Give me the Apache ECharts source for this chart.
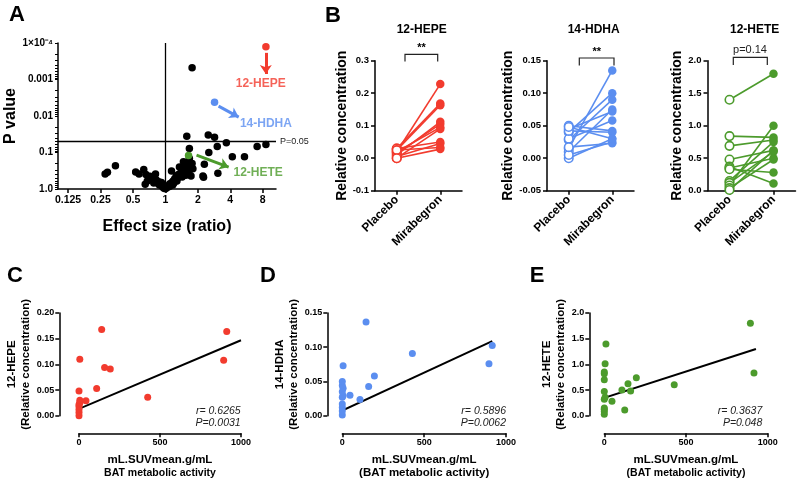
<!DOCTYPE html>
<html>
<head>
<meta charset="utf-8">
<script src="https://cdn.jsdelivr.net/npm/echarts@6/dist/echarts.min.js"></script>
<style>
  html, body { margin: 0; padding: 0; background: #fff; }
  #chart { width: 800px; height: 483px; }
</style>
</head>
<body>
<div id="chart"></div>
<script>
// ---------- panel A: volcano plot, [effect size (ratio), P value]
const volcanoPoints = [
  [0.276, 0.39], [0.29, 0.35], [0.344, 0.23],
  [0.53, 0.34], [0.57, 0.39], [0.63, 0.29], [0.66, 0.40], [0.65, 0.74], [0.70, 0.56],
  [0.72, 0.45], [0.76, 0.50], [0.81, 0.39], [0.82, 0.56], [0.87, 0.63], [0.90, 0.74],
  [0.93, 0.82], [0.95, 0.89], [0.97, 0.95], [1.0, 0.98], [0.85, 0.70], [0.78, 0.68],
  [0.68, 0.60], [0.92, 0.66], [0.88, 0.78], [0.98, 0.86],
  [1.03, 0.93], [1.05, 0.87], [1.07, 0.80], [1.09, 0.85], [1.10, 0.72], [1.12, 0.76],
  [1.14, 0.32], [1.15, 0.66], [1.18, 0.60], [1.20, 0.68], [1.22, 0.52], [1.25, 0.56],
  [1.26, 0.44], [1.30, 0.50], [1.32, 0.40], [1.35, 0.25], [1.37, 0.45], [1.40, 0.35],
  [1.42, 0.30], [1.45, 0.38], [1.47, 0.18], [1.50, 0.27], [1.52, 0.33], [1.56, 0.23],
  [1.58, 0.20], [1.60, 0.28], [1.62, 0.22], [1.67, 0.145], [1.70, 0.25], [1.73, 0.44],
  [1.77, 0.20], [1.80, 0.28], [1.65, 0.35], [1.55, 0.42], [1.43, 0.47], [1.28, 0.60],
  [1.17, 0.78],
  [2.26, 0.48], [2.30, 0.21], [2.53, 0.10], [3.07, 0.37], [2.23, 0.44],
  [4.18, 0.13], [5.42, 0.13], [1.67, 0.078], [3.03, 0.069],
  [1.58, 0.036], [2.50, 0.033], [2.86, 0.038], [3.68, 0.054], [7.1, 0.069], [8.57, 0.060],
  [1.77, 0.00048]
];
const hepeHit = [8.57, 0.000126];
const hdhaHit = [2.86, 0.0042];
const heteHit = [1.64, 0.12];
const ratioTicks = [0.125, 0.25, 0.5, 1, 2, 4, 8];
const pTicks = [1, 0.1, 0.01, 0.001, 0.0001];
const pTickLabels = ['1.0', '0.1', '0.01', '0.001', '1×10⁻⁴'];
const pCutoff = 0.05;

// ---------- panel B: paired values, same index = same subject
const groups = ['Placebo', 'Mirabegron'];
const hepePlacebo = [0.020, 0.030, 0.025, 0.010, 0.015, 0.020, 0.000, 0.030, 0.005, 0.025, 0.000];
const hepeMira    = [0.228, 0.168, 0.163, 0.112, 0.105, 0.095, 0.090, 0.050, 0.045, 0.033, 0.028];
const hdhaPlacebo = [0.015, 0.040, 0.028, 0.010, 0.045, 0.030, 0.050, 0.042, 0.000, 0.005, 0.017, 0.048];
const hdhaMira    = [0.135, 0.100, 0.090, 0.075, 0.072, 0.058, 0.042, 0.040, 0.030, 0.025, 0.023, 0.030];
const hetePlacebo = [1.40, 0.84, 0.69, 0.48, 0.37, 0.35, 0.33, 0.15, 0.12, 0.08, 0.04, 0.01];
const heteMira    = [1.80, 0.82, 0.78, 0.62, 0.11, 0.50, 0.28, 0.75, 0.60, 1.00, 0.48, 0.62];

// ---------- panels C-E: [BAT metabolic activity, relative concentration]
const hepeBat = [
  [0, 0.000], [0, 0.006], [0, 0.012], [0, 0.018], [0, 0.022], [5, 0.025], [5, 0.030],
  [0, 0.048], [5, 0.110], [43, 0.029], [109, 0.053], [140, 0.168], [158, 0.094],
  [193, 0.091], [424, 0.036], [893, 0.108], [912, 0.164]
];
const hdhaBat = [
  [0, 0.001], [0, 0.007], [0, 0.012], [0, 0.017], [0, 0.027], [5, 0.029], [0, 0.035],
  [5, 0.040], [0, 0.044], [0, 0.050], [5, 0.073], [47, 0.030], [108, 0.0235],
  [161, 0.0427], [196, 0.058], [145, 0.137], [428, 0.0907], [896, 0.076], [916, 0.1025]
];
const heteBat = [
  [0, 0.03], [0, 0.08], [0, 0.125], [0, 0.15], [0, 0.32], [5, 0.36], [0, 0.47],
  [0, 0.70], [0, 0.815], [0, 0.85], [5, 1.01], [10, 1.395], [47, 0.28], [108, 0.50],
  [125, 0.11], [145, 0.62], [161, 0.48], [196, 0.74], [428, 0.605], [894, 1.80], [916, 0.83]
];
const hepeFit = [[-78, 0.003], [1000, 0.147]];
const hdhaFit = [[-81, -0.0015], [916, 0.109]];
const heteFit = [[-87, 0.26], [928, 1.30]];
const hepeStats = ['r= 0.6265', 'P=0.0031'];
const hdhaStats = ['r= 0.5896', 'P=0.0062'];
const heteStats = ['r= 0.3637', 'P=0.048'];

const FONT = '"Liberation Sans", Arial, Helvetica, sans-serif';
const RED = '#f23b2e', BLUE = '#5b8ef0', GREEN = '#4c9b2c';
const lx = r => Math.log2(r);
const ly = p => -Math.log10(p);

const chart = echarts.init(document.getElementById('chart'), null, { renderer: 'canvas' });

const line = { color: '#000', width: 1.5 };
const tickText = size => ({ color: '#000', fontFamily: FONT, fontWeight: 'bold', fontSize: size });

function valueAxis(extra) {
  return Object.assign({
    type: 'value',
    axisLine: { show: true, onZero: false, lineStyle: line },
    axisTick: { show: true, length: 4, lineStyle: line },
    splitLine: { show: false },
    nameLocation: 'middle',
    nameTextStyle: { color: '#000', fontFamily: FONT, fontWeight: 'bold', fontSize: 12 }
  }, extra);
}

const grids = [
  { left: 58, top: 43, width: 218, height: 146 },        // A
  { left: 375, top: 60.7, width: 87, height: 130 },      // B 12-HEPE
  { left: 547, top: 60.7, width: 87, height: 130 },      // B 14-HDHA
  { left: 707.5, top: 60.7, width: 88, height: 130 },    // B 12-HETE
  { left: 79, top: 313, width: 162, height: 102.7 },     // C
  { left: 342.3, top: 313, width: 163.7, height: 102.7 },// D
  { left: 604.3, top: 313, width: 163.4, height: 102.7 } // E
].map(g => Object.assign({ outerBoundsMode: 'none', containLabel: false }, g));

const xAxes = [], yAxes = [], series = [];

// ---------- A
// log-style ticks: decades plus 2..9 within each decade
const pTickVals = pTicks.map(ly);
for (let n = 0; n < 4; n++) for (let k = 2; k <= 9; k++) pTickVals.push(n + 1 - Math.log10(k));

xAxes.push(valueAxis({
  gridIndex: 0, min: -3.31, max: 3.41,
  axisTick: { show: true, length: 4, lineStyle: line, customValues: ratioTicks.map(lx) },
  axisLabel: Object.assign(tickText(10.5), {
    margin: 6, customValues: ratioTicks.map(lx),
    formatter: v => { const r = ratioTicks.find(t => Math.abs(lx(t) - v) < 1e-6); return r === undefined ? '' : String(r); }
  }),
  name: 'Effect size (ratio)', nameGap: 30,
  nameTextStyle: { color: '#000', fontFamily: FONT, fontWeight: 'bold', fontSize: 16 }
}));
yAxes.push(valueAxis({
  gridIndex: 0, min: 0, max: 4,
  axisTick: { show: true, length: 3, lineStyle: { color: '#000', width: 1 }, customValues: pTickVals },
  axisLabel: Object.assign(tickText(10), {
    margin: 5, customValues: pTicks.map(ly),
    formatter: v => { const i = pTicks.findIndex(t => Math.abs(ly(t) - v) < 1e-6); return i < 0 ? '' : pTickLabels[i]; }
  }),
  name: 'P value', nameGap: 22,
  nameTextStyle: { color: '#000', fontFamily: FONT, fontWeight: 'bold', fontSize: 16 }
}));

series.push({
  type: 'scatter', xAxisIndex: 0, yAxisIndex: 0, symbolSize: 7.5,
  itemStyle: { color: '#000', opacity: 1 },
  data: volcanoPoints.map(([r, p]) => [lx(r), ly(p)]),
  markLine: {
    silent: true, symbol: 'none',
    lineStyle: { color: '#000', width: 1.3, type: 'solid' },
    label: { show: false },
    data: [
      { xAxis: 0 },
      { yAxis: ly(pCutoff), label: { show: true, position: 'end', formatter: 'P=0.05', distance: 4,
        color: '#222', fontFamily: FONT, fontSize: 9 } }
    ]
  }
});

function hit(pt, color, from, to) {
  return {
    type: 'scatter', xAxisIndex: 0, yAxisIndex: 0, symbolSize: 7.5,
    itemStyle: { color, opacity: 1 },
    data: [[lx(pt[0]), ly(pt[1])]],
    markLine: {
      silent: true, symbol: ['none', 'arrow'], symbolSize: 9,
      lineStyle: { color, width: 3, type: 'solid' }, label: { show: false },
      data: [[{ coord: from }, { coord: to }]]
    }
  };
}
series.push(hit(hepeHit, RED, [3.096, 3.73], [3.096, 3.15]));
series.push(hit(hdhaHit, BLUE, [1.64, 2.27], [2.26, 1.97]));
series.push(hit(heteHit, GREEN, [0.96, 0.93], [1.95, 0.60]));
series.push({
  type: 'scatter', xAxisIndex: 0, yAxisIndex: 0, symbolSize: 1, silent: true,
  itemStyle: { color: 'transparent' },
  label: { show: true, position: 'inside', formatter: '{b}', fontFamily: FONT, fontWeight: 'bold', fontSize: 12 },
  data: [
    { name: '12-HEPE', value: [2.94, 2.88], label: { color: RED } },
    { name: '14-HDHA', value: [3.10, 1.78], label: { color: BLUE } },
    { name: '12-HETE', value: [2.86, 0.45], label: { color: GREEN } }
  ]
});

// ---------- B
function pairedPanel(idx, placebo, mira, color, yMin, yMax, step, digits, nameGap) {
  xAxes.push({
    type: 'category', gridIndex: idx, data: groups, boundaryGap: true,
    axisLine: { show: true, onZero: false, lineStyle: line },
    axisTick: { show: true, alignWithLabel: true, length: 4, lineStyle: line },
    axisLabel: Object.assign(tickText(12), { rotate: 45, margin: 7, interval: 0 }),
    splitLine: { show: false }
  });
  yAxes.push(valueAxis({
    gridIndex: idx, min: yMin, max: yMax, interval: step,
    axisLabel: Object.assign(tickText(9.5), { margin: 6, formatter: v => v.toFixed(digits) }),
    name: 'Relative concentration', nameGap,
    nameTextStyle: { color: '#000', fontFamily: FONT, fontWeight: 'bold', fontSize: 14 }
  }));
  const yi = yAxes.length - 1;
  placebo.forEach((p, i) => {
    series.push({
      type: 'line', xAxisIndex: idx, yAxisIndex: yi, silent: true, symbol: 'none',
      lineStyle: { color, width: 1.6 }, data: [p, mira[i]]
    });
  });
  series.push({
    type: 'scatter', xAxisIndex: idx, yAxisIndex: yi, symbolSize: 8.5, z: 3,
    itemStyle: { color: '#fff', borderColor: color, borderWidth: 1.6, opacity: 1 },
    data: placebo.map(v => [groups[0], v])
  });
  series.push({
    type: 'scatter', xAxisIndex: idx, yAxisIndex: yi, symbolSize: 8.5, z: 3,
    itemStyle: { color, opacity: 1 },
    data: mira.map(v => [groups[1], v])
  });
}
pairedPanel(1, hepePlacebo, hepeMira, RED, -0.1, 0.3, 0.1, 1, 23);
pairedPanel(2, hdhaPlacebo, hdhaMira, BLUE, -0.05, 0.15, 0.05, 2, 26);
pairedPanel(3, hetePlacebo, heteMira, GREEN, 0, 2, 0.5, 1, 21);

// ---------- C-E
function batPanel(idx, pts, fit, color, yMax, step, digits, yName, yOffset, xName) {
  xAxes.push(valueAxis({
    gridIndex: idx, min: 0, max: 1000, interval: 500, offset: 17.6,
    axisLabel: Object.assign(tickText(9), { margin: 5, formatter: v => String(v) }),
    name: xName, nameGap: 20,
    nameTextStyle: {
      color: '#000', fontFamily: FONT, fontWeight: 'bold',
      rich: {
        a: { fontFamily: FONT, fontWeight: 'bold', fontSize: 11.5, lineHeight: 13, color: '#000' },
        b: { fontFamily: FONT, fontWeight: 'bold', fontSize: 10.5, lineHeight: 13, color: '#000' },
        c: { fontFamily: FONT, fontWeight: 'bold', fontSize: 11.5, lineHeight: 13, color: '#000' }
      }
    }
  }));
  yAxes.push(valueAxis({
    gridIndex: idx, min: 0, max: yMax, interval: step, offset: yOffset,
    axisLabel: Object.assign(tickText(9), { margin: 5, formatter: v => v.toFixed(digits) }),
    name: yName, nameGap: 18,
    nameTextStyle: { color: '#000', fontFamily: FONT, fontWeight: 'bold', fontSize: 11.5, lineHeight: 14 }
  }));
  const yi = yAxes.length - 1;
  series.push({
    type: 'line', xAxisIndex: idx, yAxisIndex: yi, silent: true, symbol: 'none', clip: false,
    lineStyle: { color: '#000', width: 2 }, data: fit
  });
  series.push({
    type: 'scatter', xAxisIndex: idx, yAxisIndex: yi, symbolSize: 7, z: 3,
    itemStyle: { color, opacity: 1 }, data: pts
  });
}
batPanel(4, hepeBat, hepeFit, RED, 0.2, 0.05, 2, '12-HEPE\n(Relative concentration)', 19.7,
  '{a|mL.SUVmean.g/mL}\n{b|BAT metabolic activity}');
batPanel(5, hdhaBat, hdhaFit, BLUE, 0.15, 0.05, 2, '14-HDHA\n(Relative concentration)', 15,
  '{a|mL.SUVmean.g/mL}\n{c|(BAT metabolic activity)}');
batPanel(6, heteBat, heteFit, GREEN, 2, 0.5, 1, '12-HETE\n(Relative concentration)', 15,
  '{a|mL.SUVmean.g/mL}\n{b|(BAT metabolic activity)}');

// ---------- annotations
function txt(text, x, y, size, opts) {
  return {
    type: 'text', x, y, silent: true,
    style: Object.assign({
      text, fill: '#000', align: 'center', verticalAlign: 'middle',
      font: 'bold ' + size + 'px ' + FONT
    }, opts || {})
  };
}
function bracket(x1, x2, yTop, yBot) {
  return {
    type: 'polyline', silent: true,
    shape: { points: [[x1, yBot], [x1, yTop], [x2, yTop], [x2, yBot]] },
    style: { stroke: '#222', lineWidth: 1.2, fill: null }
  };
}
const italic = { align: 'right', fill: '#222', font: 'italic 10.5px ' + FONT };
const graphic = [
  txt('A', 17, 15, 22), txt('B', 333, 15.5, 22),
  txt('C', 15, 276, 22), txt('D', 268, 276, 22), txt('E', 537, 276, 22),
  txt('12-HEPE', 421.7, 29.5, 12), txt('14-HDHA', 593.7, 30, 12), txt('12-HETE', 754.7, 30, 12),
  bracket(405, 437.7, 54.3, 61.5), txt('**', 421.5, 48, 11),
  bracket(579.3, 614, 58, 65.5), txt('**', 596.7, 52, 11),
  bracket(733.3, 767.3, 57.3, 65), txt('p=0.14', 750, 50, 11, { font: '11px ' + FONT, fill: '#222' }),
  txt(hepeStats[0], 240.7, 411, 10.5, italic), txt(hepeStats[1], 240.7, 423, 10.5, italic),
  txt(hdhaStats[0], 506, 411, 10.5, italic), txt(hdhaStats[1], 506, 423, 10.5, italic),
  txt(heteStats[0], 762.3, 411, 10.5, italic), txt(heteStats[1], 762.3, 423, 10.5, italic)
];

chart.setOption({
  animation: false,
  backgroundColor: '#fff',
  textStyle: { fontFamily: FONT },
  grid: grids,
  xAxis: xAxes,
  yAxis: yAxes,
  series,
  graphic
});
</script>
</body>
</html>
